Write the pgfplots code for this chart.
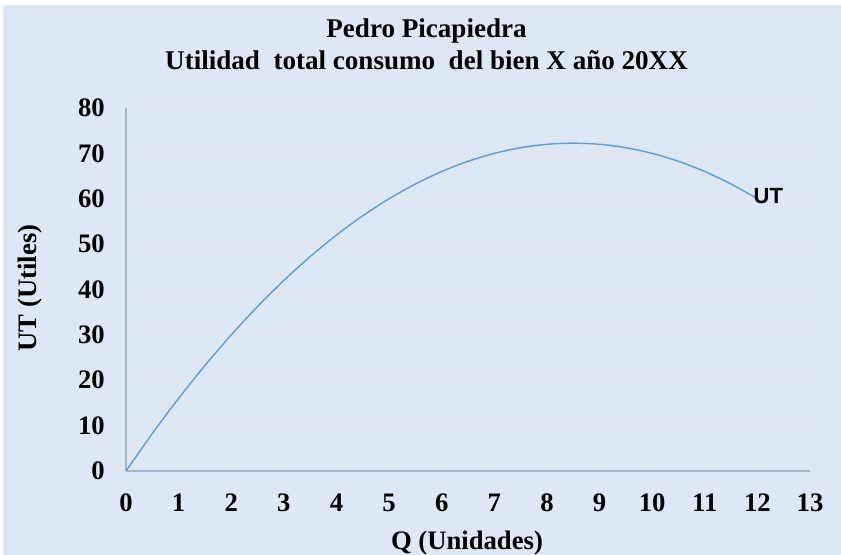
\documentclass[border=0pt]{standalone}
\usepackage{pgfplots}
\pgfplotsset{compat=1.18}
\usepackage{fontspec}
\setmainfont{Liberation Serif}
\newfontfamily\arialfont{Liberation Sans}
\definecolor{bgblue}{RGB}{222,232,245}
\definecolor{gridc}{RGB}{228,228,230}
\definecolor{axisc}{RGB}{165,180,200}
\definecolor{curvec}{RGB}{95,160,220}
\begin{document}
\begin{tikzpicture}
\fill[white] (-94.5pt,-63pt) rectangle (536.25pt,353.25pt);
\fill[bgblue] (-92.25pt,-63pt) rectangle (536.25pt,349.5pt);
\begin{axis}[
  at={(0,0)}, anchor=south west,
  scale only axis, width=513pt, height=272.25pt,
  xmin=0, xmax=13, ymin=0, ymax=80,
  xtick={0,1,...,13}, ytick={0,10,...,80},
  grid=major,
  major grid style={gridc, line width=0.6pt},
  axis x line*=bottom, axis y line*=left,
  axis line style={axisc, line width=0.8pt, -},
  major tick length=0pt,
  tick style={draw=none},
  ticklabel style={font=\fontsize{20}{24}\selectfont\bfseries},
  xticklabel style={inner sep=0pt, anchor=center, yshift=-24pt},
  yticklabel style={inner sep=0pt, anchor=east, xshift=-15.75pt},
  /pgf/number format/assume math mode=true,
  clip=false,
]
\addplot[curvec, line width=1.1pt, smooth, no marks] coordinates {
(0,0) (0.5,8.25) (1,16) (1.5,23.25) (2,30) (2.5,36.25) (3,42) (3.5,47.25) (4,52) (4.5,56.25) (5,60) (5.5,63.25) (6,66) (6.5,68.25) (7,70) (7.5,71.25) (8,72) (8.5,72.25) (9,72) (9.5,71.25) (10,70) (10.5,68.25) (11,66) (11.5,63.25) (12,60)
};
\node[anchor=west, inner sep=0pt, xshift=-3pt, yshift=2pt, font=\arialfont\fontsize{16.5}{19}\selectfont\bfseries] at (axis cs:12,60) {UT};
\end{axis}
\node[align=center, font=\fontsize{20.3}{24}\selectfont\bfseries] at (225.4pt,320.25pt) {Pedro Picapiedra\\Utilidad\ \ total consumo\ \ del bien X a\~no 20XX};
\node[font=\fontsize{20}{24}\selectfont\bfseries] at (255.75pt,-54pt) {Q (Unidades)};
\node[rotate=90, font=\fontsize{20}{24}\selectfont\bfseries] at (-72pt,137.25pt) {UT (Utiles)};
\pgfresetboundingbox
\useasboundingbox (-94.5pt,-63pt) rectangle (536.25pt,353.25pt);
\end{tikzpicture}
\end{document}
